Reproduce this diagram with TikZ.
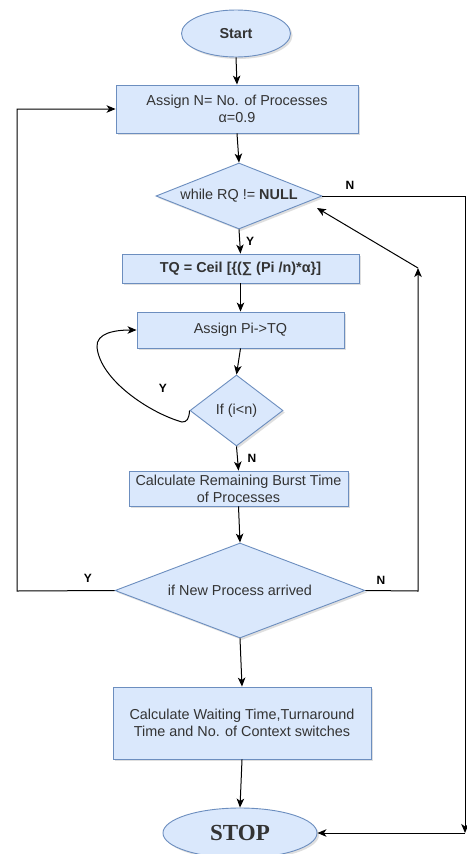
\documentclass[tikz,border=0pt]{standalone}
\usepackage{fontspec}
\setmainfont{Liberation Sans}
\newfontfamily\stopfont{Liberation Serif}
\usetikzlibrary{shapes.geometric,arrows.meta,shadows}
\definecolor{boxfill}{HTML}{DAE8FC}
\definecolor{boxdraw}{HTML}{6C8EBF}
\definecolor{txtcol}{HTML}{333333}
\begin{document}
\begin{tikzpicture}[x=1pt,y=-1pt,
  base/.style={draw=boxdraw, fill=boxfill, line width=0.9pt, text=txtcol,
    font=\fontsize{14.4}{17}\selectfont, inner sep=0pt,
    drop shadow={opacity=0.25, shadow xshift=2pt, shadow yshift=-2pt}},
  proc/.style={base, rectangle, align=center},
  term/.style={base, ellipse},
  dec/.style={base, diamond},
  dtext/.style={text=txtcol, font=\fontsize{14.4}{17}\selectfont, inner sep=0pt},
  conn/.style={line width=1pt, -{Stealth[length=9pt,width=7.5pt,inset=2.5pt]}},
  plain/.style={line width=1pt},
  lab/.style={font=\bfseries\fontsize{12}{14}\selectfont, text=black, inner sep=0pt}]
\useasboundingbox (0,0) rectangle (466,854);
\fill[white] (0,0) rectangle (466,854);

% nodes
\node[term, minimum width=109pt, minimum height=47pt,
      font=\bfseries\fontsize{14.4}{17}\selectfont] (start) at (236,33.5) {Start};
\node[proc, minimum width=242pt, minimum height=48pt] (assign) at (237,109)
  {Assign N= No. of Processes\\α=0.9};
\node[dec, minimum width=166pt, minimum height=66pt,
      label={[dtext]center:while RQ != \textbf{NULL}}] (while) at (239,196) {};
\node[proc, minimum width=237pt, minimum height=29pt,
      font=\bfseries\fontsize{14.4}{17}\selectfont] (tq) at (240.5,268.5)
  {TQ = Ceil [\{(∑ (Pi /n)*α\}]};
\node[proc, minimum width=207pt, minimum height=36pt] (api) at (240.5,330) {Assign Pi->TQ};
\node[dec, minimum width=93pt, minimum height=71pt,
      label={[dtext]center:If (i<n)}] (ifd) at (236.5,410.5) {};
\node[proc, minimum width=219pt, minimum height=35pt] (rem) at (238.5,488.5)
  {Calculate Remaining Burst Time\\of Processes};
\node[dec, minimum width=250pt, minimum height=95pt,
      label={[dtext]center:if New Process arrived}] (newp) at (240,590.5) {};
\node[proc, minimum width=258pt, minimum height=72pt] (wait) at (242,723)
  {Calculate Waiting Time,Turnaround\\Time and No. of Context switches};
\node[term, minimum width=154pt, minimum height=50pt,
      font=\stopfont\bfseries\fontsize{23}{26}\selectfont] (stop) at (240,833) {STOP};

% helper coordinates
\coordinate (rtop) at (465,196);
\coordinate (rbot) at (465,833);
\coordinate (lbot) at (17,591);
\coordinate (ltop) at (17,109);
\coordinate (nbot) at (418,591);
\coordinate (nup) at (418,268);
\coordinate (wtip) at (317,208);
\coordinate (hook) at (182,422);
\coordinate (far) at (97,347);

% connectors
\draw[conn] (start.south) -- (assign.north);
\draw[conn] (assign.south) -- (while.north);
\draw[conn] (while.south) -- (tq.north);
\draw[conn] (tq.south) -- (api.north);
\draw[conn] (api.south) -- (ifd.north);
\draw[conn] (ifd.south) -- (rem.north);
\draw[conn] (rem.south) -- (newp.north);
\draw[conn] (newp.south) -- (wait.north);
\draw[conn] (wait.south) -- (stop.north);

% loop Y from if back to Assign Pi
\draw[conn] (ifd.west) .. controls (189,419) and (187,422) .. (hook)
  .. controls (150,413) and (100,380) .. (far)
  .. controls (96,333) and (115,330) .. (api.west);

% N from while to STOP along right edge
\draw[conn] (while.east) -- (rtop) -- (rbot);
\draw[conn] (rbot) -- (stop.east);

% Y from new process back to assign
\draw[conn] (newp.west) -- (lbot) -- (ltop) -- (assign.west);

% N from new process back to while
\draw[conn] (newp.east) -- (nbot) -- (nup);
\draw[conn] (nup) -- (wtip);

% labels
\node[lab] (lN1) at (350,185) {N};
\node[lab] (lY1) at (250,241) {Y};
\node[lab] (lY2) at (163,388) {Y};
\node[lab] (lN2) at (252,458) {N};
\node[lab] (lY3) at (88,578) {Y};
\node[lab] (lN3) at (381,580) {N};
\end{tikzpicture}
\end{document}
